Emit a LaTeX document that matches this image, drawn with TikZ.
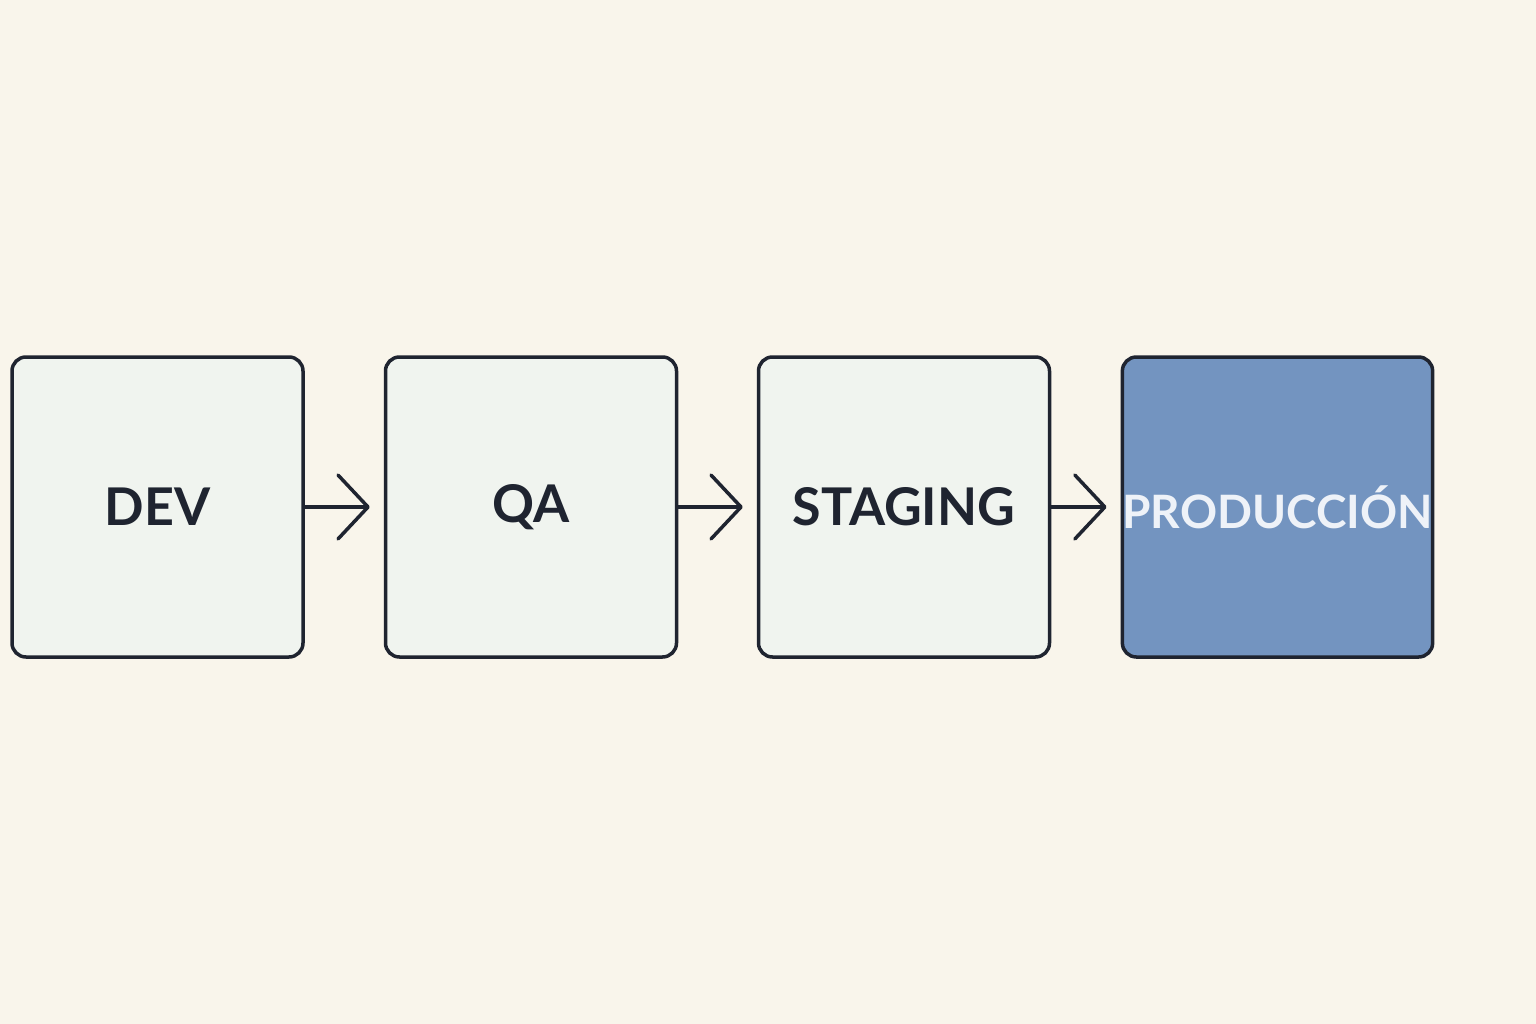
\documentclass[tikz,border=0pt]{standalone}
\usepackage{fontspec}
\setmainfont{Lato}
\usetikzlibrary{arrows.meta}
\definecolor{bg}{HTML}{F9F5EB}
\definecolor{boxf}{HTML}{F0F4EF}
\definecolor{prodf}{HTML}{7394C0}
\definecolor{ink}{HTML}{1F2430}
\definecolor{ptext}{HTML}{EEF2F8}
\begin{document}
\begin{tikzpicture}[x=1pt,y=-1pt,
  box/.style={draw=ink,line width=3.5pt,rounded corners=14pt,fill=boxf,minimum width=291pt,minimum height=300pt,inner sep=0pt,font=\fontsize{52}{52}\selectfont\bfseries,text=ink},
  arr/.style={draw=ink,line width=3.5pt,line cap=round,-{Straight Barb[length=30pt,width=64pt,line width=3.5pt,round]},shorten >=14pt}]
\fill[bg] (0,0) rectangle (1536,1024);
\node[box] (dev) at (157.5,507) {DEV};
\node[box] (qa) at (531,507) {QA};
\node[box] (st) at (904,507) {STAGING};
\node[box,fill=prodf,text=ptext] (pr) at (1277.5,507) {\fontsize{46}{46}\selectfont PRODUCCIÓN};
\draw[arr] (dev.east) -- (qa.west);
\draw[arr] (qa.east) -- (st.west);
\draw[arr] (st.east) -- (pr.west);
\end{tikzpicture}
\end{document}
